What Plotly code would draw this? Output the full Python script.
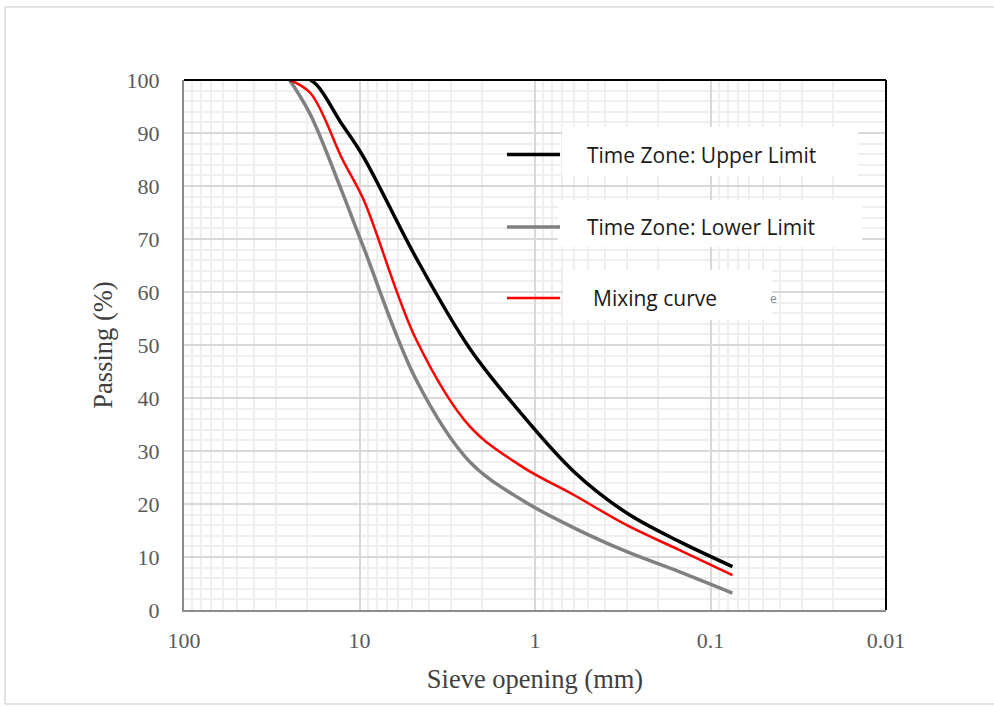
import plotly.graph_objects as go

# Sieve openings (mm)
sieve = [25, 19, 12.5, 9.5, 4.75, 2.36, 1.18, 0.6, 0.3, 0.15, 0.075]
upper = [100, 100, 91.5, 85.5, 66.4, 49.4, 36.8, 26.1, 18.3, 12.9, 8.2]
lower = [100, 93.4, 78.7, 68.5, 43.4, 28.0, 20.7, 15.5, 11.0, 7.2, 3.2]
mixing = [100, 97.5, 85.0, 77.5, 51.0, 34.7, 27.0, 21.7, 16.0, 11.3, 6.6]

series_names = ["Time Zone: Upper Limit", "Time Zone: Lower Limit", "Mixing curve"]
series_colors = ["#000000", "#808080", "#ff0000"]

x_tickvals = [100, 10, 1, 0.1, 0.01]
x_ticktext = ["100", "10", "1", "0.1", "0.01"]
y_tickvals = list(range(0, 101, 10))

W, H = 994, 707
L, R, T, B = 184, 886, 80, 610  # plot area pixel positions


def px(xp):
    return (xp - L) / (R - L)


def py(yp):
    return (B - yp) / (B - T)


fig = go.Figure()
fig.add_trace(go.Scatter(x=sieve, y=lower, mode="lines", name=series_names[1],
                         line=dict(color=series_colors[1], width=3.5, shape="spline", smoothing=1.0)))
fig.add_trace(go.Scatter(x=sieve, y=mixing, mode="lines", name=series_names[2],
                         line=dict(color=series_colors[2], width=2.5, shape="spline", smoothing=1.0)))
fig.add_trace(go.Scatter(x=sieve, y=upper, mode="lines", name=series_names[0],
                         line=dict(color=series_colors[0], width=3.5, shape="spline", smoothing=1.0)))

minor_x = [m * 10 ** e for e in range(-2, 2) for m in range(2, 10)]

axis_font = dict(family="Liberation Serif, Times New Roman, serif", size=22, color="#595959")
title_font = dict(family="Liberation Serif, Times New Roman, serif", size=26.5, color="#404040")

fig.update_xaxes(type="log", range=[2, -2], tickvals=x_tickvals, ticktext=x_ticktext,
                 showgrid=True, gridcolor="#d9d9d9", gridwidth=1.5,
                 minor=dict(tickvals=minor_x, showgrid=True, gridcolor="#efefef", gridwidth=1.5),
                 showline=True, linecolor="#8c8c8c", linewidth=2, zeroline=False,
                 ticks="outside", ticklen=10, tickcolor="rgba(0,0,0,0)",
                 tickfont=axis_font,
                 title=dict(text="Sieve opening (mm)", font=title_font, standoff=17))
fig.update_yaxes(range=[0, 100], tickvals=y_tickvals,
                 showgrid=True, gridcolor="#d9d9d9", gridwidth=1.5,
                 minor=dict(dtick=2, showgrid=True, gridcolor="#efefef", gridwidth=1.5),
                 showline=True, linecolor="#8c8c8c", linewidth=2, zeroline=False,
                 ticks="outside", ticklen=18, tickcolor="rgba(0,0,0,0)",
                 tickfont=axis_font,
                 title=dict(text="Passing (%)", font=title_font, standoff=6))

shapes = []
# black top & right frame
shapes.append(dict(type="line", xref="paper", yref="paper", x0=0, x1=1, y0=1, y1=1,
                   line=dict(color="#000000", width=2), layer="above"))
shapes.append(dict(type="line", xref="paper", yref="paper", x0=1, x1=1, y0=0, y1=1,
                   line=dict(color="#000000", width=2), layer="above"))
# outer chart border (left, top, bottom)
border = dict(color="#d9d9d9", width=1.5)
shapes.append(dict(type="line", xref="paper", yref="paper", x0=px(5), x1=px(5), y0=py(7), y1=py(704),
                   line=border, layer="below"))
shapes.append(dict(type="line", xref="paper", yref="paper", x0=px(5), x1=px(994), y0=py(7), y1=py(7),
                   line=border, layer="below"))
shapes.append(dict(type="line", xref="paper", yref="paper", x0=px(5), x1=px(994), y0=py(704), y1=py(704),
                   line=border, layer="below"))

# legend boxes and keys
boxes = [(562, 858, 127, 176), (558, 862, 200, 247), (563, 772, 270, 320)]
key_y = [154.5, 227, 298]
text_x = [585, 585, 591]
key_colors = [series_colors[0], series_colors[1], series_colors[2]]
key_w = [3.5, 3.5, 2.5]
annotations = []
for i, (bx0, bx1, by0, by1) in enumerate(boxes):
    shapes.append(dict(type="rect", xref="paper", yref="paper", x0=px(bx0), x1=px(bx1),
                       y0=py(by1), y1=py(by0), fillcolor="white", line=dict(width=0), layer="above"))
    shapes.append(dict(type="line", xref="paper", yref="paper", x0=px(507), x1=px(560),
                       y0=py(key_y[i]), y1=py(key_y[i]),
                       line=dict(color=key_colors[i], width=key_w[i]), layer="above"))
    annotations.append(dict(xref="paper", yref="paper", x=px(text_x[i]), y=py(key_y[i]),
                            xanchor="left", yanchor="middle", showarrow=False,
                            text=series_names[i],
                            font=dict(family="Open Sans, sans-serif", size=21, color="#1a1a1a")))
annotations.append(dict(xref="paper", yref="paper", x=px(768), y=py(298),
                        xanchor="left", yanchor="middle", showarrow=False, text="e",
                        font=dict(family="Open Sans, sans-serif", size=12, color="#888888")))

fig.update_layout(width=W, height=H,
                  margin=dict(l=L, r=W - R, t=T, b=H - B),
                  paper_bgcolor="white", plot_bgcolor="white",
                  showlegend=False, shapes=shapes, annotations=annotations)

fig.write_html("out.html", config={"displayModeBar": False},
               post_script="document.body.style.margin='0';document.body.style.overflow='hidden';")
